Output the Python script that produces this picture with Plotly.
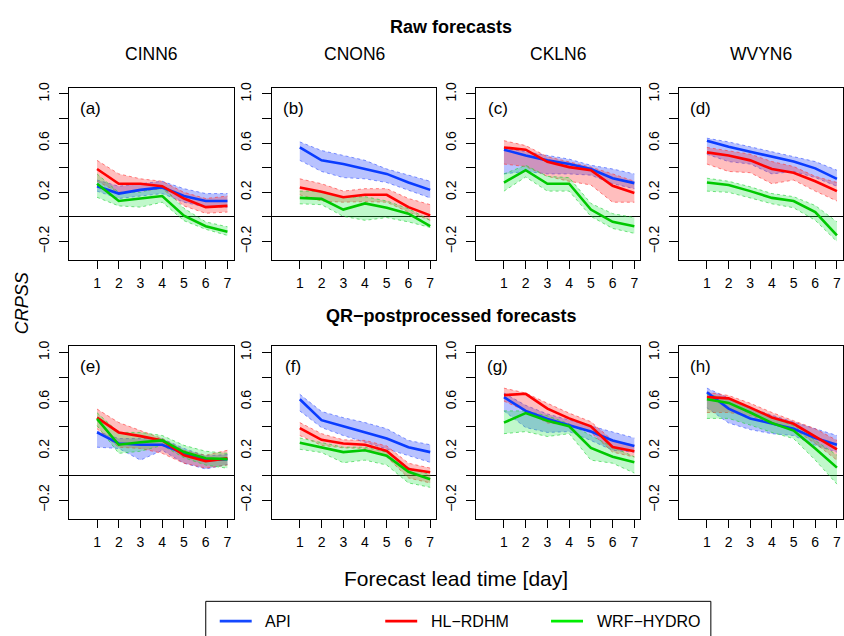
import plotly.graph_objects as go

W, H = 844, 636

days = [1, 2, 3, 4, 5, 6, 7]
stations = ["CINN6", "CNON6", "CKLN6", "WVYN6"]
panel_tags = ["(a)", "(b)", "(c)", "(d)", "(e)", "(f)", "(g)", "(h)"]
y_tick_vals = [-0.2, 0.0, 0.2, 0.4, 0.6, 0.8, 1.0]
y_tick_text = ["\u22120.2", "", "0.2", "", "0.6", "", "1.0"]

# ---------------- Raw forecasts (one list per station) ----------------
api_raw = [
    [0.25, 0.19, 0.22, 0.24, 0.17, 0.13, 0.13],
    [0.565, 0.46, 0.43, 0.39, 0.35, 0.28, 0.22],
    [0.547, 0.50, 0.46, 0.43, 0.39, 0.315, 0.275],
    [0.62, 0.57, 0.53, 0.49, 0.45, 0.395, 0.31],
]
api_raw_hi = [
    [0.30, 0.25, 0.27, 0.29, 0.23, 0.19, 0.19],
    [0.61, 0.54, 0.50, 0.46, 0.39, 0.34, 0.29],
    [0.56, 0.53, 0.50, 0.47, 0.42, 0.39, 0.35],
    [0.64, 0.61, 0.57, 0.53, 0.49, 0.45, 0.38],
]
api_raw_lo = [
    [0.21, 0.15, 0.17, 0.19, 0.12, 0.08, 0.08],
    [0.46, 0.37, 0.32, 0.31, 0.28, 0.22, 0.155],
    [0.35, 0.37, 0.35, 0.35, 0.34, 0.27, 0.23],
    [0.51, 0.45, 0.43, 0.35, 0.37, 0.32, 0.25],
]
hl_raw = [
    [0.39, 0.27, 0.27, 0.25, 0.15, 0.08, 0.09],
    [0.24, 0.205, 0.16, 0.18, 0.18, 0.08, 0.013],
    [0.565, 0.547, 0.448, 0.405, 0.38, 0.253, 0.195],
    [0.525, 0.50, 0.46, 0.39, 0.36, 0.29, 0.21],
]
hl_raw_hi = [
    [0.46, 0.35, 0.31, 0.29, 0.20, 0.15, 0.17],
    [0.31, 0.27, 0.21, 0.23, 0.23, 0.15, 0.10],
    [0.62, 0.58, 0.49, 0.45, 0.405, 0.35, 0.29],
    [0.565, 0.54, 0.51, 0.45, 0.41, 0.33, 0.28],
]
hl_raw_lo = [
    [0.29, 0.20, 0.21, 0.23, 0.09, 0.03, 0.04],
    [0.18, 0.13, 0.12, 0.125, 0.12, 0.04, -0.027],
    [0.43, 0.41, 0.33, 0.29, 0.26, 0.12, 0.12],
    [0.43, 0.37, 0.36, 0.27, 0.30, 0.21, 0.13],
]
wrf_raw = [
    [0.27, 0.13, 0.15, 0.17, 0.01, -0.075, -0.12],
    [0.155, 0.147, 0.06, 0.11, 0.075, 0.027, -0.075],
    [0.28, 0.38, 0.27, 0.27, 0.06, -0.04, -0.075],
    [0.28, 0.26, 0.21, 0.155, 0.13, 0.04, -0.15],
]
wrf_raw_hi = [
    [0.35, 0.20, 0.20, 0.25, 0.07, -0.04, -0.08],
    [0.21, 0.21, 0.16, 0.165, 0.13, 0.067, -0.027],
    [0.35, 0.42, 0.33, 0.32, 0.11, 0.027, -0.005],
    [0.315, 0.29, 0.245, 0.19, 0.165, 0.093, -0.04],
]
wrf_raw_lo = [
    [0.16, 0.09, 0.08, 0.12, -0.03, -0.10, -0.15],
    [0.107, 0.10, 0.005, -0.027, -0.005, -0.04, -0.085],
    [0.21, 0.325, 0.21, 0.21, 0.005, -0.093, -0.133],
    [0.21, 0.20, 0.155, 0.107, 0.075, -0.027, -0.20],
]

# ---------------- QR-postprocessed forecasts ----------------
api_qr = [
    [0.35, 0.26, 0.25, 0.25, 0.18, 0.125, 0.133],
    [0.62, 0.45, 0.40, 0.35, 0.30, 0.23, 0.19],
    [0.637, 0.525, 0.46, 0.41, 0.357, 0.285, 0.24],
    [0.677, 0.544, 0.464, 0.42, 0.38, 0.304, 0.25],
]
api_qr_hi = [
    [0.36, 0.30, 0.30, 0.30, 0.22, 0.16, 0.17],
    [0.66, 0.52, 0.47, 0.43, 0.38, 0.285, 0.25],
    [0.67, 0.57, 0.50, 0.45, 0.40, 0.35, 0.305],
    [0.71, 0.63, 0.55, 0.49, 0.437, 0.38, 0.325],
]
api_qr_lo = [
    [0.23, 0.22, 0.125, 0.205, 0.10, 0.053, 0.09],
    [0.525, 0.39, 0.325, 0.27, 0.22, 0.16, 0.107],
    [0.525, 0.39, 0.35, 0.357, 0.285, 0.205, 0.19],
    [0.55, 0.427, 0.373, 0.34, 0.325, 0.245, 0.19],
]
hl_qr = [
    [0.47, 0.35, 0.32, 0.285, 0.165, 0.117, 0.139],
    [0.385, 0.29, 0.26, 0.25, 0.20, 0.053, 0.027],
    [0.653, 0.664, 0.544, 0.464, 0.40, 0.232, 0.197],
    [0.637, 0.627, 0.552, 0.472, 0.42, 0.32, 0.213],
]
hl_qr_hi = [
    [0.54, 0.43, 0.365, 0.30, 0.205, 0.165, 0.205],
    [0.43, 0.34, 0.29, 0.285, 0.24, 0.10, 0.06],
    [0.71, 0.67, 0.587, 0.507, 0.437, 0.285, 0.245],
    [0.677, 0.65, 0.587, 0.512, 0.445, 0.38, 0.285],
]
hl_qr_lo = [
    [0.38, 0.23, 0.22, 0.18, 0.10, 0.06, 0.085],
    [0.325, 0.245, 0.225, 0.22, 0.15, -0.02, -0.06],
    [0.605, 0.525, 0.427, 0.41, 0.35, 0.19, 0.15],
    [0.512, 0.512, 0.485, 0.427, 0.38, 0.26, 0.125],
]
wrf_qr = [
    [0.46, 0.25, 0.27, 0.285, 0.19, 0.14, 0.133],
    [0.267, 0.23, 0.19, 0.205, 0.16, 0.03, -0.03],
    [0.43, 0.507, 0.445, 0.40, 0.224, 0.152, 0.107],
    [0.62, 0.59, 0.512, 0.427, 0.365, 0.22, 0.064],
]
wrf_qr_hi = [
    [0.51, 0.35, 0.35, 0.325, 0.245, 0.197, 0.18],
    [0.305, 0.27, 0.23, 0.23, 0.19, 0.064, 0.005],
    [0.525, 0.525, 0.485, 0.42, 0.325, 0.232, 0.152],
    [0.66, 0.624, 0.552, 0.472, 0.405, 0.285, 0.165],
]
wrf_qr_lo = [
    [0.405, 0.18, 0.197, 0.245, 0.144, 0.085, 0.059],
    [0.213, 0.187, 0.104, 0.125, 0.085, -0.06, -0.096],
    [0.34, 0.357, 0.317, 0.34, 0.125, 0.10, 0.02],
    [0.464, 0.464, 0.41, 0.35, 0.30, 0.125, -0.07],
]

models = ["API", "HL-RDHM", "WRF-HYDRO"]
line_colors = ["#0a3cff", "#ff0000", "#00c800"]
legend_colors = ["#1448ff", "#ff0000", "#00ee00"]
fill_colors = ["rgba(40,70,255,0.33)", "rgba(255,40,40,0.30)", "rgba(30,230,70,0.28)"]
border_colors = ["rgba(60,90,255,0.8)", "rgba(255,60,60,0.8)", "rgba(40,210,60,0.8)"]

raw_sets = [(api_raw, api_raw_lo, api_raw_hi), (hl_raw, hl_raw_lo, hl_raw_hi), (wrf_raw, wrf_raw_lo, wrf_raw_hi)]
qr_sets = [(api_qr, api_qr_lo, api_qr_hi), (hl_qr, hl_qr_lo, hl_qr_hi), (wrf_qr, wrf_qr_lo, wrf_qr_hi)]

# ---------------- layout geometry (pixels) ----------------
panel_left = [69.3, 272.3, 476.7, 680.0]
panel_w = 164.5
row_top = [82.3, 343.3]
row_h = 174.4


def px(x):
    return x / W


def py(y):
    return 1 - y / H


fig = go.Figure()
layout = dict(
    width=W, height=H, margin=dict(l=0, r=0, t=0, b=0),
    paper_bgcolor="white", plot_bgcolor="white", showlegend=False,
    font=dict(family="Liberation Sans, Arial, sans-serif", color="black"),
)
annotations = []
shapes = []

for row in range(2):
    sets = raw_sets if row == 0 else qr_sets
    for col in range(4):
        i = row * 4 + col
        ax = "" if i == 0 else str(i + 1)
        xref, yref = "x" + ax, "y" + ax
        # bands
        for m in range(3):
            mean, lo, hi = sets[m][0][col], sets[m][1][col], sets[m][2][col]
            fig.add_trace(go.Scatter(x=days, y=hi, mode="lines", xaxis=xref, yaxis=yref,
                                     line=dict(color=border_colors[m], width=0.8, dash="dot"),
                                     hoverinfo="skip"))
            fig.add_trace(go.Scatter(x=days, y=lo, mode="lines", xaxis=xref, yaxis=yref,
                                     line=dict(color=border_colors[m], width=0.8, dash="dot"),
                                     fill="tonexty", fillcolor=fill_colors[m], hoverinfo="skip"))
        for m in range(3):
            mean = sets[m][0][col]
            fig.add_trace(go.Scatter(x=days, y=mean, mode="lines", xaxis=xref, yaxis=yref,
                                     name=models[m], line=dict(color=line_colors[m], width=2.6)))
        x0 = panel_left[col]
        y0 = row_top[row]
        layout["xaxis" + ax] = dict(
            domain=[px(x0), min(1.0, px(x0 + panel_w))], anchor=yref,
            range=[-0.28, 7.28], tickvals=days, ticks="outside", ticklen=8,
            tickcolor="black", tickfont=dict(size=14), showgrid=False, zeroline=False,
            showline=True, linecolor="black", linewidth=1, mirror=True,
            ticklabelstandoff=2,
        )
        layout["yaxis" + ax] = dict(
            domain=[py(y0 + row_h), py(y0)], anchor=xref,
            range=[-0.352, 1.052], tickvals=y_tick_vals, ticktext=y_tick_text,
            tickangle=-90, ticks="outside", ticklen=9, tickcolor="black",
            tickfont=dict(size=14), showgrid=False,
            zeroline=True, zerolinecolor="black", zerolinewidth=1,
            showline=True, linecolor="black", linewidth=1, mirror=True,
            ticklabelstandoff=5,
        )
        annotations.append(dict(text=panel_tags[i], x=px(x0 + 21.4), y=py(y0 + 21),
                                xref="paper", yref="paper", showarrow=False,
                                font=dict(size=17), xanchor="center", yanchor="middle"))
        if row == 0:
            annotations.append(dict(text=stations[col], x=px(x0 + panel_w / 2), y=py(48.5),
                                    xref="paper", yref="paper", showarrow=False,
                                    font=dict(size=17.5), xanchor="center", yanchor="middle"))

annotations += [
    dict(text="<b>Raw forecasts</b>", x=px(452), y=py(21), xref="paper", yref="paper",
         showarrow=False, font=dict(size=18), xanchor="center", yanchor="middle"),
    dict(text="<b>QR\u2212postprocessed forecasts</b>", x=px(452), y=py(313), xref="paper", yref="paper",
         showarrow=False, font=dict(size=18), xanchor="center", yanchor="middle"),
    dict(text="<i>CRPSS</i>", x=px(22), y=py(300), xref="paper", yref="paper", textangle=-90,
         showarrow=False, font=dict(size=18), xanchor="center", yanchor="middle"),
    dict(text="Forecast lead time [day]", x=px(457), y=py(578), xref="paper", yref="paper",
         showarrow=False, font=dict(size=21), xanchor="center", yanchor="middle"),
]

# legend box (drawn manually to match the reference)
shapes.append(dict(type="rect", xref="paper", yref="paper", x0=px(206), x1=px(711.7),
                   y0=py(648), y1=py(601), line=dict(color="black", width=1)))
leg_line_x = [220, 385.7, 551.7]
leg_text_x = [263, 430, 596]
for m in range(3):
    shapes.append(dict(type="line", xref="paper", yref="paper", x0=px(leg_line_x[m]),
                       x1=px(leg_line_x[m] + 32), y0=py(621), y1=py(621),
                       line=dict(color=legend_colors[m], width=2.6)))
    annotations.append(dict(text=models[m].replace("-", "\u2212"), x=px(leg_text_x[m]), y=py(621),
                            xref="paper", yref="paper", showarrow=False,
                            font=dict(size=16), xanchor="left", yanchor="middle"))

layout["annotations"] = annotations
layout["shapes"] = shapes
fig.update_layout(**layout)
fig.write_html(
    "out.html",
    config={"displayModeBar": False},
    post_script="document.body.style.margin='0';document.body.style.padding='0';"
                "document.documentElement.style.overflow='hidden';",
)
